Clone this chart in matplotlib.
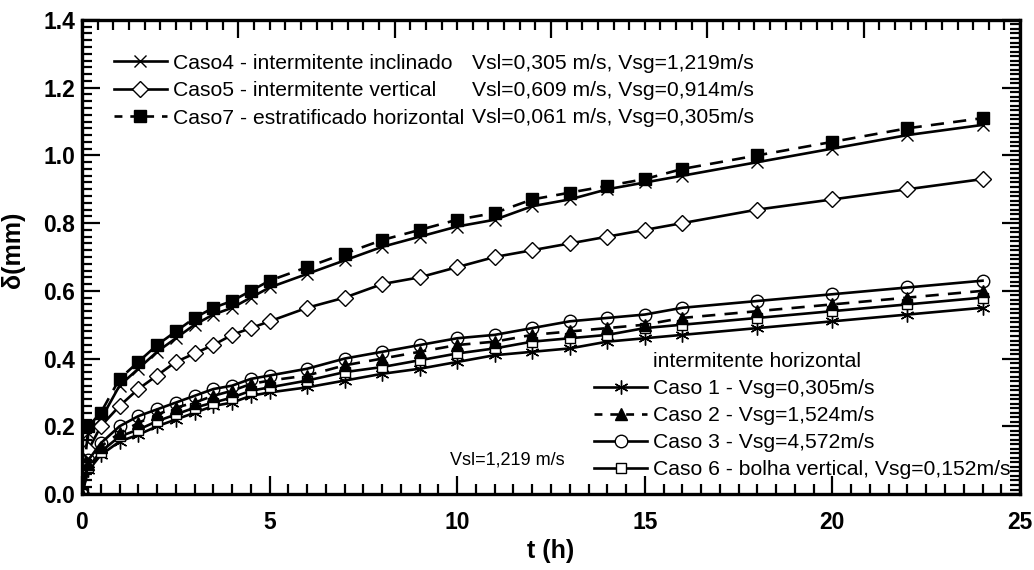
import matplotlib
matplotlib.use("Agg")
import matplotlib.pyplot as plt
from matplotlib.ticker import MultipleLocator
from matplotlib.lines import Line2D

plt.rcParams['font.family'] = ['Liberation Sans', 'DejaVu Sans']

t = [0, 0.17, 0.5, 1, 1.5, 2, 2.5, 3, 3.5, 4, 4.5, 5, 6, 7, 8, 9, 10,
     11, 12, 13, 14, 15, 16, 18, 20, 22, 24]

caso7 = [0, 0.20, 0.24, 0.34, 0.39, 0.44, 0.48, 0.52, 0.55, 0.57, 0.60, 0.63, 0.67,
         0.71, 0.75, 0.78, 0.81, 0.83, 0.87, 0.89, 0.91, 0.93, 0.96, 1.00, 1.04, 1.08, 1.11]
caso4 = [0, 0.18, 0.22, 0.32, 0.37, 0.42, 0.46, 0.50, 0.53, 0.55, 0.58, 0.61, 0.65,
         0.69, 0.73, 0.76, 0.79, 0.81, 0.85, 0.87, 0.90, 0.92, 0.94, 0.98, 1.02, 1.06, 1.09]
caso5 = [0, 0.13, 0.20, 0.26, 0.31, 0.35, 0.39, 0.415, 0.44, 0.47, 0.49, 0.51, 0.55,
         0.58, 0.62, 0.64, 0.67, 0.70, 0.72, 0.74, 0.76, 0.78, 0.80, 0.84, 0.87, 0.90, 0.93]
caso3 = [0, 0.10, 0.15, 0.20, 0.23, 0.25, 0.27, 0.29, 0.31, 0.32, 0.34, 0.35, 0.37,
         0.40, 0.42, 0.44, 0.46, 0.47, 0.49, 0.51, 0.52, 0.53, 0.55, 0.57, 0.59, 0.61, 0.63]
caso2 = [0, 0.09, 0.14, 0.18, 0.21, 0.235, 0.255, 0.27, 0.29, 0.305, 0.325, 0.335, 0.35,
         0.38, 0.40, 0.42, 0.44, 0.45, 0.47, 0.48, 0.49, 0.50, 0.52, 0.54, 0.56, 0.58, 0.60]
caso6 = [0, 0.08, 0.125, 0.17, 0.19, 0.215, 0.235, 0.255, 0.27, 0.285, 0.305, 0.315, 0.335,
         0.36, 0.375, 0.395, 0.415, 0.43, 0.45, 0.46, 0.47, 0.49, 0.50, 0.52, 0.54, 0.56, 0.58]
caso1 = [0, 0.07, 0.115, 0.155, 0.175, 0.20, 0.22, 0.24, 0.26, 0.27, 0.29, 0.30, 0.315,
         0.335, 0.355, 0.37, 0.39, 0.41, 0.42, 0.43, 0.45, 0.46, 0.47, 0.49, 0.51, 0.53, 0.55]

top_labels = ["Caso4 - intermitente inclinado",
              "Caso5 - intermitente vertical",
              "Caso7 - estratificado horizontal"]
top_vel = ["Vsl=0,305 m/s, Vsg=1,219m/s",
           "Vsl=0,609 m/s, Vsg=0,914m/s",
           "Vsl=0,061 m/s, Vsg=0,305m/s"]
bot_title = "intermitente horizontal"
bot_labels = ["Caso 1 - Vsg=0,305m/s",
              "Caso 2 - Vsg=1,524m/s",
              "Caso 3 - Vsg=4,572m/s",
              "Caso 6 - bolha vertical, Vsg=0,152m/s"]

fig = plt.figure(figsize=(10.34, 5.70), dpi=100)
ax = fig.add_axes([0.0793, 0.1333, 0.9072, 0.8317])

lw = 1.9
ms = 9
fs = 15.2
common = dict(color="black", lw=lw, clip_on=True)

ax.plot(t, caso4, marker="x", ms=ms, mew=1.0, **common)
ax.plot(t, caso5, marker="D", ms=ms * 0.85, mfc="white", mec="black", mew=1.0, **common)
ax.plot(t, caso7, marker="s", ms=ms, mfc="black", mec="black", ls=(0, (5, 3.5)), **common)

ax.plot(t, caso1, marker=(6, 2, 0), ms=ms + 1, mew=1.0, **common)
ax.plot(t, caso6, marker="s", ms=ms * 0.8, mfc="white", mec="black", mew=1.0, **common)
ax.plot(t, caso2, marker="^", ms=ms, mfc="black", mec="black", ls=(0, (5, 3.5)), **common)
ax.plot(t, caso3, marker="o", ms=ms, mfc="none", mec="black", mew=1.0, **common)

ax.set_xlim(0, 25)
ax.set_ylim(0, 1.4)
ax.xaxis.set_major_locator(MultipleLocator(5))
ax.xaxis.set_minor_locator(MultipleLocator(0.5))
ax.yaxis.set_major_locator(MultipleLocator(0.2))
ax.yaxis.set_minor_locator(MultipleLocator(0.02))
ax.yaxis.set_major_formatter(plt.FormatStrFormatter("%.1f"))

for s in ax.spines.values():
    s.set_linewidth(2.4)

tick_kw = dict(direction="in", width=1.6, color="black")
ax.tick_params(which="major", length=13, labelsize=16.5, pad=5, **tick_kw)
ax.tick_params(which="minor", length=7, **tick_kw)
ax.tick_params(axis="x", which="major", pad=12)
for lab in ax.get_xticklabels() + ax.get_yticklabels():
    lab.set_fontweight("bold")

top = ax.secondary_xaxis("top", functions=(lambda x: x * 1.2, lambda x: x / 1.2))
top.xaxis.set_major_locator(MultipleLocator(5))
top.xaxis.set_minor_locator(MultipleLocator(0.5))
top.tick_params(which="major", length=13, labeltop=False, **tick_kw)
top.tick_params(which="minor", length=7, **tick_kw)

right = ax.secondary_yaxis("right")
right.yaxis.set_major_locator(MultipleLocator(0.2))
right.yaxis.set_minor_locator(MultipleLocator(0.2 / 15))
right.tick_params(which="major", length=13, labelright=False, **tick_kw)
right.tick_params(which="minor", length=7, **tick_kw)

ax.set_xlabel("t (h)", fontsize=18, fontweight="bold", labelpad=4)
ax.set_ylabel("δ(mm)", fontsize=18, fontweight="bold", labelpad=2)
ax.yaxis.set_label_coords(-0.061, 0.515)

h_top = [
    Line2D([], [], marker="x", ms=ms, mew=1.0, color="black", lw=lw),
    Line2D([], [], marker="D", ms=ms * 0.85, mfc="white", mec="black", mew=1.0, color="black", lw=lw),
    Line2D([], [], marker="s", ms=ms, color="black", lw=lw, ls=(0, (3, 3))),
]
leg1 = ax.legend(h_top, top_labels, loc="upper left", bbox_to_anchor=(0.025, 0.947),
                 frameon=False, fontsize=fs, handlelength=2.5, handletextpad=0.3,
                 labelspacing=0.41, borderaxespad=0)
ax.add_artist(leg1)
for i, v in enumerate(top_vel):
    ax.text(0.716, 0.909 - i * 0.0575, v, transform=ax.transAxes, fontsize=fs,
            ha="right", va="center")

h_bot = [
    Line2D([], [], lw=0),
    Line2D([], [], marker=(6, 2, 0), ms=ms + 1, mew=1.0, color="black", lw=lw),
    Line2D([], [], marker="^", ms=ms, color="black", lw=lw, ls=(0, (3, 3))),
    Line2D([], [], marker="o", ms=ms, mfc="white", mec="black", mew=1.0, color="black", lw=lw),
    Line2D([], [], marker="s", ms=ms * 0.8, mfc="white", mec="black", mew=1.0, color="black", lw=lw),
]
leg2 = ax.legend(h_bot, [bot_title] + bot_labels, loc="lower left",
                 bbox_to_anchor=(0.537, 0.0137), frameon=False, fontsize=fs,
                 handlelength=2.5, handletextpad=0.3,
                 labelspacing=0.38, borderaxespad=0)

ax.text(9.8, 0.1, "Vsl=1,219 m/s", fontsize=13, ha="left", va="center")

fig.savefig("out.png", dpi=100)
